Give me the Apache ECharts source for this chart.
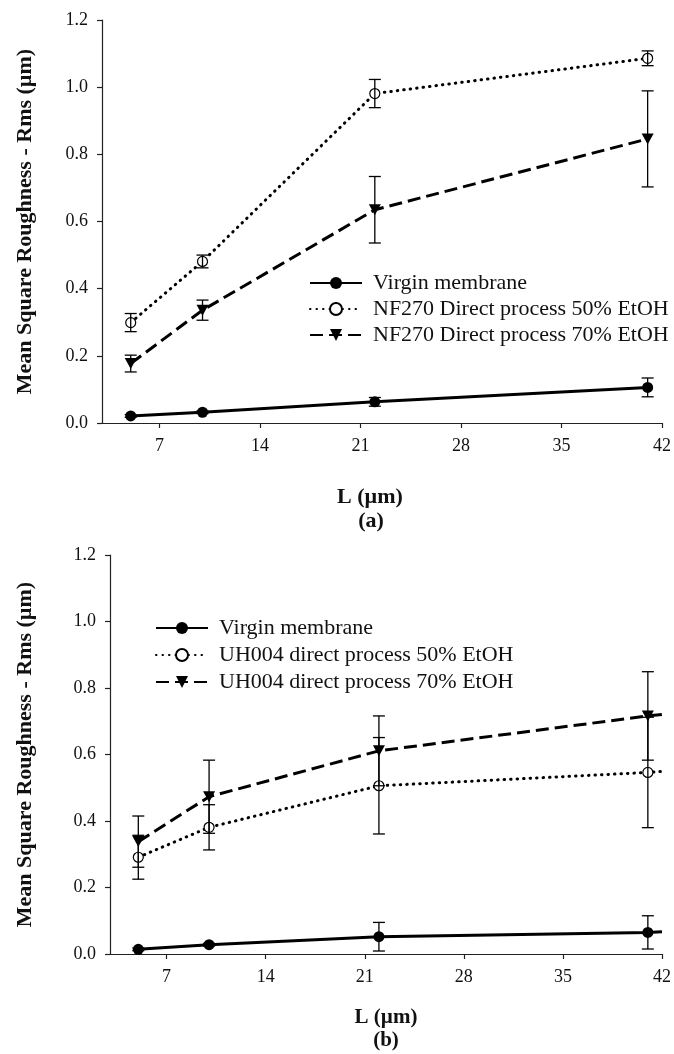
<!DOCTYPE html>
<html>
<head>
<meta charset="utf-8">
<script src="https://cdn.jsdelivr.net/npm/echarts@6/dist/echarts.min.js"></script>
<style>
html,body{margin:0;padding:0;background:#fff;}
#c{width:674px;height:1054px;}
</style>
</head>
<body>
<div id="c"></div>
<script>
// ---- data (a) ----
const xA = [5, 10, 22, 41];
const virginA = [0.021, 0.032, 0.063, 0.106];
const virginAErr = [0.004, 0.004, 0.013, 0.028];
const nf50 = [0.299, 0.481, 0.981, 1.086];
const nf50Err = [0.027, 0.019, 0.042, 0.022];
const nf70 = [0.177, 0.336, 0.635, 0.846];
const nf70Err = [0.025, 0.030, 0.099, 0.143];
// ---- data (b) ---- (last x = line end at axis edge, no marker)
const xB = [5, 10, 22, 41, 42];
const virginB = [0.014, 0.028, 0.052, 0.065, 0.067];
const virginBErr = [0.004, 0.004, 0.043, 0.050];
const uh50 = [0.291, 0.381, 0.506, 0.546, 0.549];
const uh50Err = [0.066, 0.068, 0.145, 0.166];
const uh70 = [0.338, 0.473, 0.611, 0.716, 0.720];
const uh70Err = [0.077, 0.110, 0.105, 0.133];
// ---- axes / labels ----
const xTicks = [7, 14, 21, 28, 35, 42];
const namesA = ['Virgin membrane', 'NF270 Direct process 50% EtOH', 'NF270 Direct process 70% EtOH'];
const namesB = ['Virgin membrane', 'UH004 direct process 50% EtOH', 'UH004 direct process 70% EtOH'];
const yTitle = 'Mean Square Roughness - Rms (µm)';
const xTitle = 'L (µm)';

const FONT = '"Liberation Serif","Times New Roman",serif';
const BLACK = '#000';

function pts(xs, ys, nMarked) {
  return ys.map((v, i) => {
    const d = { value: [xs[i], v] };
    if (i >= nMarked) d.symbolSize = 0;
    return d;
  });
}
function errRows(xs, ys, es) {
  return es.map((e, i) => [xs[i], ys[i] - e, ys[i] + e]);
}
function renderErr(params, api) {
  const x = api.value(0), lo = api.value(1), hi = api.value(2);
  const p1 = api.coord([x, hi]);
  const p2 = api.coord([x, lo]);
  const w = 6;
  const st = { stroke: BLACK, lineWidth: 1.3 };
  return {
    type: 'group',
    children: [
      { type: 'line', shape: { x1: p1[0], y1: p1[1], x2: p2[0], y2: p2[1] }, style: st },
      { type: 'line', shape: { x1: p1[0] - w, y1: p1[1], x2: p1[0] + w, y2: p1[1] }, style: st },
      { type: 'line', shape: { x1: p2[0] - w, y1: p2[1], x2: p2[0] + w, y2: p2[1] }, style: st }
    ]
  };
}

const styles = [
  { symbol: 'circle', symbolSize: 11, itemStyle: { color: BLACK }, lineStyle: { color: BLACK, width: 3, type: 'solid' } },
  { symbol: 'circle', symbolSize: 10, itemStyle: { color: '#fff', borderColor: BLACK, borderWidth: 1.2 }, lineStyle: { color: BLACK, width: 3, type: [0.5, 6], cap: 'round' } },
  { symbol: 'triangle', symbolSize: [12, 11], symbolRotate: 180, itemStyle: { color: BLACK }, lineStyle: { color: BLACK, width: 3, type: [13, 6] } }
];

function lineSeries(name, idx, data, style) {
  return Object.assign({
    type: 'line', name: name, xAxisIndex: idx, yAxisIndex: idx, data: data,
    showAllSymbol: true, z: 3, animation: false
  }, JSON.parse(JSON.stringify(style)));
}

function xAxis(idx) {
  return {
    type: 'value', gridIndex: idx, min: 3, max: 42,
    axisLine: { show: true, lineStyle: { color: '#222', width: 1.2 } },
    axisTick: { show: true, length: 5, customValues: xTicks, lineStyle: { color: '#222', width: 1.2 } },
    axisLabel: { customValues: xTicks, margin: 14, color: '#111', fontFamily: FONT, fontSize: 18 },
    splitLine: { show: false }
  };
}
function yAxis(idx, gap) {
  return {
    type: 'value', gridIndex: idx, min: 0, max: 1.2, interval: 0.2,
    name: yTitle, nameLocation: 'middle', nameGap: gap,
    nameTextStyle: { color: '#111', fontFamily: FONT, fontSize: 22, fontWeight: 'bold' },
    axisLine: { show: true, lineStyle: { color: '#222', width: 1.2 } },
    axisTick: { show: true, length: 5, lineStyle: { color: '#222', width: 1.2 } },
    axisLabel: { margin: 14, color: '#111', fontFamily: FONT, fontSize: 18, formatter: v => v.toFixed(1) },
    splitLine: { show: false }
  };
}
function legend(names, left, top, gap) {
  return {
    orient: 'vertical', left: left, top: top, data: names,
    itemWidth: 52, itemHeight: 15, itemGap: gap, selectedMode: false,
    textStyle: { color: '#111', fontFamily: FONT, fontSize: 22, lineHeight: 22, padding: [0, 0, 0, 6] }
  };
}
function txt(x, y, s, size) {
  return { type: 'text', x: x, y: y,
    style: { text: s, fill: '#111', font: 'bold ' + size + 'px ' + FONT, textAlign: 'center', textVerticalAlign: 'middle' } };
}

const option = {
  backgroundColor: '#fff',
  animation: false,
  grid: [
    { left: 102, width: 562, top: 20, height: 403 },
    { left: 110, width: 554, top: 555, height: 399 }
  ],
  xAxis: [xAxis(0), xAxis(1)],
  yAxis: [yAxis(0, 66), yAxis(1, 74)],
  legend: [legend(namesA, 304, 267, 4), legend(namesB, 150, 612, 5)],
  graphic: [
    txt(370, 497, xTitle, 22),
    txt(371, 521, '(a)', 22),
    txt(386, 1018, xTitle, 21),
    txt(386, 1041, '(b)', 21)
  ],
  series: [
    lineSeries(namesA[0], 0, pts(xA, virginA, 4), styles[0]),
    lineSeries(namesA[1], 0, pts(xA, nf50, 4), styles[1]),
    lineSeries(namesA[2], 0, pts(xA, nf70, 4), styles[2]),
    { type: 'custom', xAxisIndex: 0, yAxisIndex: 0, z: 4, renderItem: renderErr,
      encode: { x: 0, y: [1, 2] },
      data: [].concat(errRows(xA, virginA, virginAErr), errRows(xA, nf50, nf50Err), errRows(xA, nf70, nf70Err)) },
    lineSeries(namesB[0], 1, pts(xB, virginB, 4), styles[0]),
    lineSeries(namesB[1], 1, pts(xB, uh50, 4), styles[1]),
    lineSeries(namesB[2], 1, pts(xB, uh70, 4), styles[2]),
    { type: 'custom', xAxisIndex: 1, yAxisIndex: 1, z: 4, renderItem: renderErr,
      encode: { x: 0, y: [1, 2] },
      data: [].concat(errRows(xB, virginB, virginBErr), errRows(xB, uh50, uh50Err), errRows(xB, uh70, uh70Err)) }
  ]
};
const chart = echarts.init(document.getElementById('c'), null, { renderer: 'canvas' });
chart.setOption(option);
</script>
</body>
</html>
